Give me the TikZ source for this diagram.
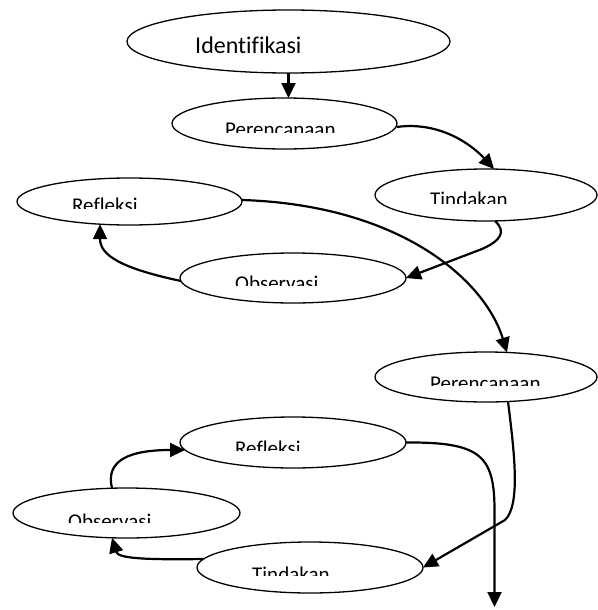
\documentclass[tikz,border=0pt]{standalone}
\usepackage{fontspec}
\setmainfont{Carlito}[Ligatures=NoCommon]
\usetikzlibrary{shapes.geometric,arrows.meta,calc}
\begin{document}
\begin{tikzpicture}[x=1pt,y=-1pt,
 ell/.style={ellipse,draw,line width=1.3pt,inner sep=0pt,outer sep=0pt},
 lab/.style={font=\fontsize{21}{25}\selectfont,inner sep=0pt,anchor=base west},
 flow/.style={line width=2.2pt,-{Triangle[length=15pt,width=14pt]}}]
\useasboundingbox (0,0) rectangle (597,610);
% ellipses
\node[ell,minimum width=323pt,minimum height=63pt] (i) at (288.5,41.5) {};
\node[ell,minimum width=225pt,minimum height=51pt] (p1) at (284.5,123.5) {};
\node[ell,minimum width=222pt,minimum height=52pt] (t1) at (486,195) {};
\node[ell,minimum width=225pt,minimum height=47pt] (r1) at (129.5,201.5) {};
\node[ell,minimum width=226pt,minimum height=50pt] (o1) at (293,278) {};
\node[ell,minimum width=222pt,minimum height=50pt] (p2) at (486,377) {};
\node[ell,minimum width=226pt,minimum height=51pt] (r2) at (293,442.5) {};
\node[ell,minimum width=227pt,minimum height=50pt] (o2) at (126.5,513) {};
\node[ell,minimum width=226pt,minimum height=51pt] (t2) at (310,567.5) {};
% texts
\node[font=\fontsize{24}{29}\selectfont,inner sep=0pt,anchor=base west] (it) at (195,54) {Identifikasi};
\begin{scope}\clip (150,90) rectangle (420,132);\node[lab] (p1t) at (225,136.5) {Perencanaan};\end{scope}
\begin{scope}\clip (370,160) rectangle (597,203);\node[lab] (t1t) at (430,206.5) {Tindakan};\end{scope}
\begin{scope}\clip (10,175) rectangle (250,208);\node[lab] (r1t) at (72,212) {Refleksi};\end{scope}
\begin{scope}\clip (175,250) rectangle (410,285);\node[lab] (o1t) at (235,290.5) {Observasi};\end{scope}
\begin{scope}\clip (370,345) rectangle (597,385);\node[lab] (p2t) at (430,390.5) {Perencanaan};\end{scope}
\begin{scope}\clip (175,410) rectangle (410,450);\node[lab] (r2t) at (235,455.5) {Refleksi};\end{scope}
\begin{scope}\clip (5,480) rectangle (245,522);\node[lab] (o2t) at (68,528.5) {Observasi};\end{scope}
\begin{scope}\clip (190,535) rectangle (430,575);\node[lab] (t2t) at (252,581.5) {Tindakan};\end{scope}
% connectors
\coordinate (e) at (494.5,607);
\draw[flow] (i.south) -- (i.south |- p1.north);
\draw[flow] ($(p1)+(112,3.5)$) .. controls (440,121) and (472,145) .. ($(t1)+(8,-26)$);
\draw[flow] ($(t1)+(9,26)$) .. controls (507,232) and (500,241) .. (482,249) -- (o1.east);
\draw[flow] ($(o1)+(-112,3)$) .. controls (120,268) and (100,255) .. ($(r1)+(-29.5,22.7)$);
\draw[flow] ($(r1)+(112.5,-1.5)$) .. controls (400,205) and (485,280) .. ($(p2)+(21,-24.5)$);
\draw[flow] ($(p2)+(22,24.5)$) .. controls (514,450) and (521,505) .. (505,520) -- (t2.east);
\draw[flow] (r2.east) .. controls (480,442) and (494.5,455) .. (494.5,510) -- (e);
\draw[flow] ($(o2)+(-14.5,-24.8)$) .. controls (105,460) and (130,450) .. ($(r2)+(-108,7.5)$);
\draw[flow] ($(t2)+(-106.5,-8.5)$) .. controls (140,560) and (118,558) .. ($(o2)+(-14.5,24.8)$);
\end{tikzpicture}
\end{document}
